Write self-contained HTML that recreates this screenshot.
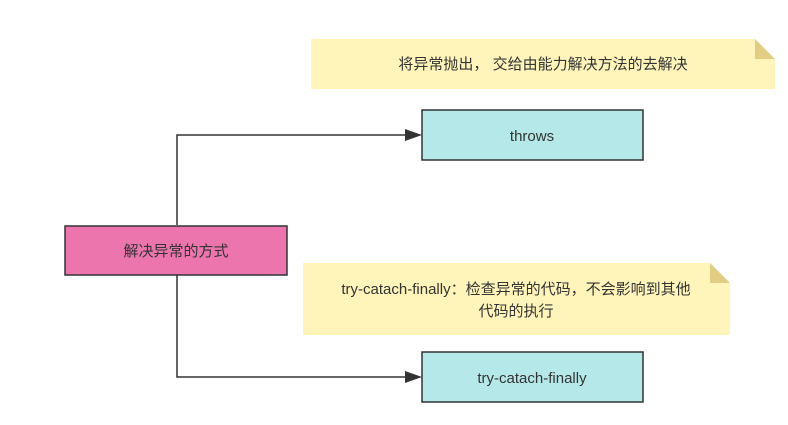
<!DOCTYPE html>
<html><head><meta charset="utf-8"><style>
body{margin:0;background:#fff;}
text{font-family:"Liberation Sans","Noto Sans CJK SC",sans-serif;fill:#333;font-size:15px;}
</style></head><body>
<svg width="788" height="420" xmlns="http://www.w3.org/2000/svg">
<polygon points="311,39 755,39 775,59 775,89 311,89" fill="#fff4b9"/>
<polygon points="755,39 775,59 755,59" fill="#e2cd84"/>
<text x="543" y="69" text-anchor="middle">将异常抛出， 交给由能力解决方法的去解决</text>
<polygon points="303,263 710,263 730,283 730,335 303,335" fill="#fff4b9"/>
<polygon points="710,263 730,283 710,283" fill="#e2cd84"/>
<text x="516" y="294" text-anchor="middle">try-catach-finally：检查异常的代码，不会影响到其他</text>
<text x="516" y="316" text-anchor="middle">代码的执行</text>
<path d="M177,225 V135 H410" fill="none" stroke="#333" stroke-width="1.5"/>
<polygon points="422,135 405,129 405,141" fill="#333"/>
<path d="M177,275 V377 H410" fill="none" stroke="#333" stroke-width="1.5"/>
<polygon points="422,377 405,371 405,383" fill="#333"/>
<rect x="422" y="110" width="221" height="50" fill="#b5e8e8" stroke="#333" stroke-width="1.5"/>
<text x="532" y="141" text-anchor="middle">throws</text>
<rect x="422" y="352" width="221" height="50" fill="#b5e8e8" stroke="#333" stroke-width="1.5"/>
<text x="532" y="383" text-anchor="middle">try-catach-finally</text>
<rect x="65" y="226" width="222" height="49" fill="#ec75ae" stroke="#333" stroke-width="1.5"/>
<text x="176" y="256" text-anchor="middle">解决异常的方式</text>
</svg>
</body></html>
